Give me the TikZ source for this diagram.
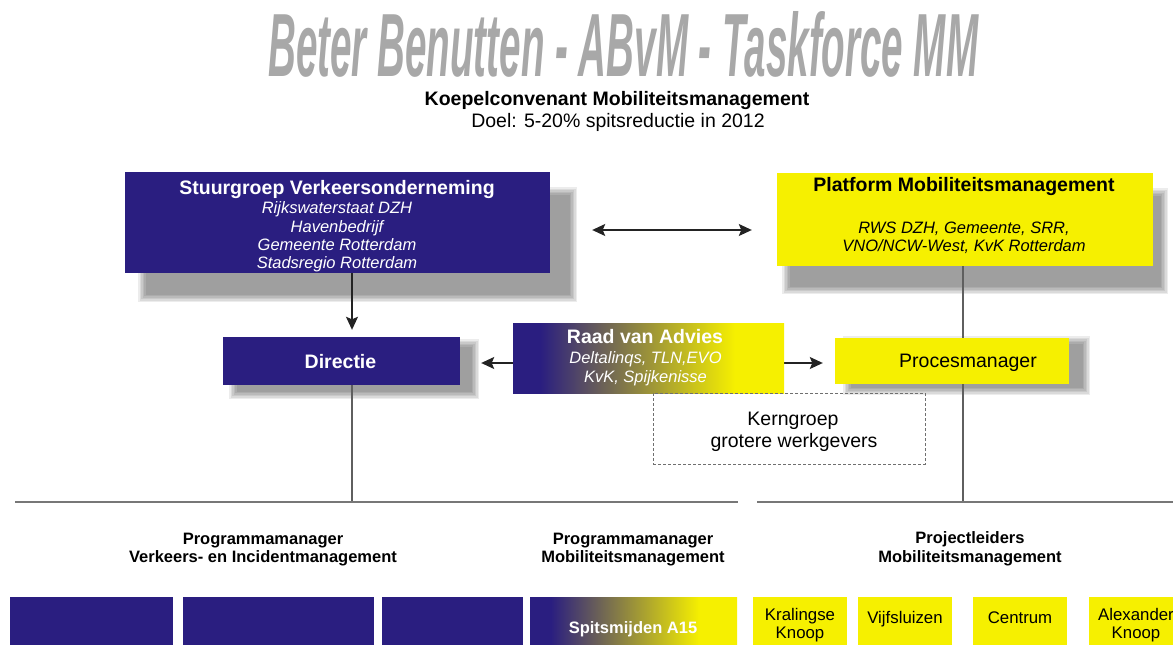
\documentclass[tikz,border=0pt]{standalone}
\usepackage{graphicx}
\usepackage{fontspec}
\setmainfont{Liberation Sans}
\usetikzlibrary{arrows.meta}
\definecolor{navy}{RGB}{42,30,128}
\definecolor{yel}{RGB}{246,240,0}
\definecolor{titlegray}{RGB}{168,168,168}
\definecolor{linegray}{RGB}{95,95,95}
\definecolor{arrowgray}{RGB}{35,35,35}
\pgfdeclarehorizontalshading{navyyel}{100bp}{color(0bp)=(navy); color(30bp)=(navy); color(66bp)=(yel); color(100bp)=(yel)}
\pgfdeclarelayer{bglayer}
\pgfdeclarelayer{shadowlayer}
\pgfdeclarelayer{linelayer}
\pgfsetlayers{bglayer,shadowlayer,linelayer,main}
\newcommand\softshadow[4]{\foreach \e in {7,5.5,4,2.5,1,-0.5}{\fill[black,opacity=0.075] (#1-\e,#2-\e) rectangle (#3+\e,#4+\e);}}
\tikzset{ArrT/.tip={Stealth[length=13pt,width=12pt,inset=2.5pt]}}
\begin{document}
\begin{tikzpicture}[x=1pt,y=-1pt,
  box/.style={rectangle, inner sep=0pt, draw=none},
  navybox/.style={box, fill=navy},
  yelbox/.style={box, fill=yel},
  gradbox/.style={box, shading=navyyel},
  dashbox/.style={box, draw=linegray!90, dash pattern=on 3pt off 2pt, line width=0.9pt},
  txt/.style={inner sep=0pt, anchor=base},
  ttl/.style={txt, font=\fontsize{19.5}{22}\selectfont\bfseries},
  itl/.style={txt, font=\fontsize{16.5}{19}\selectfont\itshape},
  reg/.style={txt, font=\fontsize{19.5}{22}\selectfont},
  lab/.style={txt, font=\fontsize{16.5}{19}\selectfont\bfseries},
  sm/.style={txt, font=\fontsize{16.8}{19}\selectfont},
  arr/.style={draw=arrowgray, line width=1.2pt, -ArrT},
  dbl/.style={draw=arrowgray, line width=1.2pt, ArrT-ArrT},
  conn/.style={draw=linegray, line width=1.1pt},
  hline/.style={draw=linegray!85, line width=1.8pt}
]
\clip (0,0) rectangle (1173,645);
\begin{pgfonlayer}{bglayer}
\fill[white] (0,0) rectangle (1173,645);
\end{pgfonlayer}

% title
\node[inner sep=0pt, anchor=south west, text=titlegray] (title) at (268,78)
  {\resizebox{710pt}{65pt}{\bfseries\itshape Beter Benutten - ABvM - Taskforce MM}};
\node[ttl] (sub1) at (617,105) {Koepelconvenant Mobiliteitsmanagement};
\node[reg] (sub2) at (618,127) {Doel: 5-20\% spitsreductie in 2012};

% Stuurgroep
\node[navybox, minimum width=425pt, minimum height=101pt] (stuur) at (337.5,222.5) {};
\node[ttl, text=white] (stuurT) at (337,194) {Stuurgroep Verkeersonderneming};
\node[itl, text=white] (stuur1) at (337,213) {Rijkswaterstaat DZH};
\node[itl, text=white] (stuur2) at (337,232) {Havenbedrijf};
\node[itl, text=white] (stuur3) at (337,250) {Gemeente Rotterdam};
\node[itl, text=white] (stuur4) at (337,268) {Stadsregio Rotterdam};

% Platform
\node[yelbox, minimum width=376pt, minimum height=93pt] (plat) at (965,219.5) {};
\node[ttl] (platT) at (964,191) {Platform Mobiliteitsmanagement};
\node[itl] (plat1) at (964,233) {RWS DZH, Gemeente, SRR,};
\node[itl] (plat2) at (964,251) {VNO/NCW-West, KvK Rotterdam};

% Directie
\node[navybox, minimum width=237pt, minimum height=48pt] (dir) at (341.5,361) {};
\node[ttl, text=white] (dirT) at (340.5,368.5) {Directie};

% Raad van Advies
\node[gradbox, minimum width=271pt, minimum height=70pt] (raad) at (648.5,358) {};
\node[ttl, text=white] (raadT) at (645,343.5) {Raad van Advies};
\node[itl, text=white] (raad1) at (645.5,363) {Deltalinqs, TLN,EVO};
\node[itl, text=white] (raad2) at (645.5,382) {KvK, Spijkenisse};

% Procesmanager
\node[yelbox, minimum width=234pt, minimum height=46pt] (proc) at (952,361) {};
\node[reg] (procT) at (968,367) {Procesmanager};

% Kerngroep
\node[dashbox, minimum width=272pt, minimum height=71pt] (kern) at (789,428.5) {};
\node[reg] (kern1) at (793,425) {Kerngroep};
\node[reg] (kern2) at (794,447) {grotere werkgevers};

% labels
\node[lab] (pm1a) at (263,544) {Programmamanager};
\node[lab] (pm1b) at (263,562.5) {Verkeers- en Incidentmanagement};
\node[lab] (pm2a) at (633,544) {Programmamanager};
\node[lab] (pm2b) at (633,562.5) {Mobiliteitsmanagement};
\node[lab] (plA) at (970,543.5) {Projectleiders};
\node[lab] (plB) at (970,562.5) {Mobiliteitsmanagement};

% bottom row
\node[navybox, minimum width=163pt, minimum height=63pt] (b1) at (91.5,628.5) {};
\node[navybox, minimum width=191pt, minimum height=63pt] (b2) at (278.5,628.5) {};
\node[navybox, minimum width=141pt, minimum height=63pt] (b3) at (452.5,628.5) {};
\node[gradbox, minimum width=207pt, minimum height=63pt] (b4) at (633.5,628.5) {};
\node[lab, text=white] (b4T) at (633,633) {Spitsmijden A15};
\node[yelbox, minimum width=94pt, minimum height=63pt] (b5) at (800,628.5) {};
\node[sm] (b5a) at (800,620) {Kralingse};
\node[sm] (b5b) at (800,638) {Knoop};
\node[yelbox, minimum width=94pt, minimum height=63pt] (b6) at (905,628.5) {};
\node[sm] (b6T) at (905,623) {Vijfsluizen};
\node[yelbox, minimum width=94pt, minimum height=63pt] (b7) at (1020,628.5) {};
\node[sm] (b7T) at (1020,623) {Centrum};
\node[yelbox, minimum width=94pt, minimum height=63pt] (b8) at (1136,628.5) {};
\node[sm] (b8a) at (1136,620) {Alexander};
\node[sm] (b8b) at (1136,638) {Knoop};

% shadows
\begin{pgfonlayer}{shadowlayer}
\softshadow{145}{194}{570}{295}
\softshadow{789}{195}{1161}{287}
\softshadow{236}{346}{472}{392}
\softshadow{850}{343}{1083}{388}
\end{pgfonlayer}

% lines and arrows
\begin{pgfonlayer}{linelayer}
\coordinate (ax) at (352,0);
\coordinate (pl) at (963,0);
\coordinate (hy) at (0,502);
\coordinate (ay) at (0,230);
\coordinate (ry) at (0,363);
\coordinate (hl1) at (15,502);
\coordinate (hl2) at (738,502);
\coordinate (hl3) at (757,502);
\coordinate (hl4) at (1180,502);
\draw[conn] (ax |- dir.south) -- (ax |- hy);
\draw[conn] (pl |- plat.south) -- (pl |- hy);
\draw[hline] (hl1) -- (hl2);
\draw[hline] (hl3) -- (hl4);
\draw[arr, shorten >=7pt] (ax |- stuur.south) -- (ax |- dir.north);
\draw[dbl, shorten <=42pt, shorten >=25pt] (stuur.east |- ay) -- (plat.west |- ay);
\draw[arr, shorten >=21pt] (raad.west |- ry) -- (dir.east |- ry);
\draw[arr, shorten >=12pt] (raad.east |- ry) -- (proc.west |- ry);
\end{pgfonlayer}
\end{tikzpicture}
\end{document}
